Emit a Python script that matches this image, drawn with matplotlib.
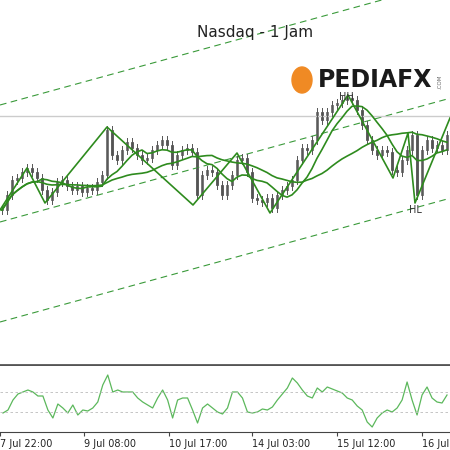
import matplotlib
matplotlib.use("Agg")
import matplotlib.pyplot as plt
import numpy as np
import pandas as pd
from matplotlib.patches import Rectangle, Ellipse

# price level (chart units, higher = up), one candle every 5 units on x
closes_px = [210,195,180,178,172,168,172,178,190,200,192,182,180,186,190,186,192,188,190,182,
             175,130,155,160,150,142,148,155,160,158,150,145,140,145,165,155,150,148,152,195,
             175,170,172,185,195,185,175,160,158,172,198,200,202,198,208,195,190,186,180,160,
             148,150,140,112,120,112,105,103,100,98,100,110,125,140,150,155,150,152,170,172,
             160,150,135,195,150,140,148,145,150,135]
closes = [400 - v for v in closes_px]

osc_px = [413,410,400,394,392,390,392,396,396,410,418,404,408,413,405,415,410,411,408,402,
          385,375,392,390,392,392,392,398,402,405,408,398,390,400,418,400,398,398,410,423,
          408,404,408,412,414,408,392,392,398,412,413,412,409,410,407,400,394,388,378,383,
          390,396,398,388,392,387,389,391,393,398,400,406,410,422,427,418,413,410,412,408,
          400,382,400,415,395,387,398,402,403,395]
osc = [450 - v for v in osc_px]

zz_x = [0, 27, 45, 107, 193, 237, 270, 348, 393, 408, 415, 450]
zz_y = [400 - v for v in [210, 168, 203, 127, 205, 153, 213, 95, 178, 133, 203, 118]]

tick_pos = [-1, 83, 168, 252, 337, 422]
tick_labels = ["7 Jul 22:00", "9 Jul 08:00", "10 Jul 17:00", "14 Jul 03:00", "15 Jul 12:00", "16 Jul 21:00"]

fig = plt.figure(figsize=(4.5, 4.5), dpi=100)
ax = fig.add_axes([0, 1 - 365/450, 1, 365/450])
ax2 = fig.add_axes([0, 1 - 432/450, 1, 66/450])
for a in (ax, ax2):
    a.set_xlim(0, 450)
    for s in a.spines.values():
        s.set_visible(False)
ax.set_ylim(400 - 365, 400)
ax.set_xticks([]); ax.set_yticks([])

green = "#2e8b1e"
xs = np.arange(len(closes)) * 5 + 2
for y0 in [105, 222, 322]:
    ax.plot([0, 450], [400 - y0, 400 - (y0 - 0.275*450)], ls=(0, (6, 4)), color="#3a9a3a", lw=0.8)
ax.axhline(400 - 116, color="#cccccc", lw=1)

opens = [closes[0]] + closes[:-1]
for x, o, c in zip(xs, opens, closes):
    hi, lo = max(o, c) + 4, min(o, c) - 4
    ax.plot([x, x], [lo, hi], color="#555555", lw=0.7)
    col = "#444444" if c < o else "white"
    ax.add_patch(Rectangle((x - 1.3, min(o, c)), 2.6, max(abs(c - o), 0.8), fc=col, ec="#444444", lw=0.5))

s = pd.Series(closes)
ax.plot(xs, s.rolling(8, min_periods=1).mean(), color=green, lw=1.2)
ax.plot(xs, s.rolling(22, min_periods=1).mean(), color=green, lw=1.2)
ax.plot(zz_x, zz_y, color=green, lw=1.2)

ax.text(415, 400 - 213, "HL", fontsize=7, ha="center", color="#333333")
ax.text(346, 400 - 100, "HH", fontsize=7, ha="center", color="#333333")
ax.text(255, 400 - 33, "Nasdaq - 1 Jam", fontsize=11, ha="center", va="center", color="#222222")
ax.add_patch(Ellipse((302, 400 - 80), 20, 26, color="#f08a24"))
ax.text(318, 400 - 80, "PEDIAFX", fontsize=17, fontweight="bold", va="center", color="#1a1a1a")
ax.text(437, 400 - 82, ".COM", fontsize=4, rotation=90, va="center", color="#666666")

ax.plot([0, 450], [35.5, 35.5], color="#555555", lw=2, clip_on=False)

ax2.set_ylim(450 - 432, 450 - 366)
ax2.plot(xs, osc, color="#5cb85c", lw=0.9)
for yv in [392, 412]:
    ax2.axhline(450 - yv, color="#bbbbbb", ls=(0, (3, 3)), lw=0.6)
ax2.spines["bottom"].set_visible(True)
ax2.spines["bottom"].set_color("#444444")
ax2.set_yticks([])
ax2.set_xticks(tick_pos)
ax2.set_xticklabels(tick_labels, ha="left", fontsize=7, color="#222222")
ax2.tick_params(axis="x", length=3, pad=2, color="#444444")
fig.savefig("out.png", dpi=100, facecolor="white")
